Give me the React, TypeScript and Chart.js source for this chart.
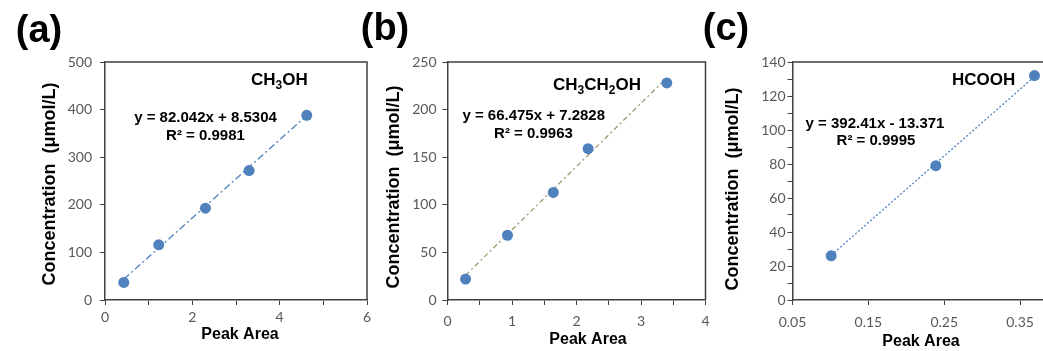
import React, { useEffect, useRef } from 'react';
import { Chart, registerables } from 'chart.js';
Chart.register(...registerables);

// ---------- DATA ----------
// (a) CH3OH
const A_PEAK_AREA = [0.43, 1.23, 2.3, 3.3, 4.62];
const A_CONC = [37, 116, 193, 272, 388];
const A_TREND_X = [0.43, 4.62];
const A_TREND_Y = [43.8, 387.6];
const A_X_TICKS = [0, 1, 2, 3, 4, 5, 6];
const A_X_LABELS = [0, 2, 4, 6];
const A_Y_TICKS = [0, 100, 200, 300, 400, 500];
const A_Y_LABELS = [0, 100, 200, 300, 400, 500];
const A_EQUATION = 'y = 82.042x + 8.5304';
const A_R2 = 'R² = 0.9981';
const A_COMPOUND: [string, boolean][] = [['CH', false], ['3', true], ['OH', false]];

// (b) CH3CH2OH
const B_PEAK_AREA = [0.28, 0.93, 1.64, 2.18, 3.4];
const B_CONC = [22, 68, 113, 159, 228];
const B_TREND_X = [0.28, 3.4];
const B_TREND_Y = [25.9, 233.3];
const B_X_TICKS = [0, 0.5, 1, 1.5, 2, 2.5, 3, 3.5, 4];
const B_X_LABELS = [0, 1, 2, 3, 4];
const B_Y_TICKS = [0, 50, 100, 150, 200, 250];
const B_Y_LABELS = [0, 50, 100, 150, 200, 250];
const B_EQUATION = 'y = 66.475x + 7.2828';
const B_R2 = 'R² = 0.9963';
const B_COMPOUND: [string, boolean][] = [['CH', false], ['3', true], ['CH', false], ['2', true], ['OH', false]];

// (c) HCOOH
const C_PEAK_AREA = [0.101, 0.239, 0.369];
const C_CONC = [26, 79, 132];
const C_TREND_X = [0.101, 0.369];
const C_TREND_Y = [26.3, 131.4];
const C_X_TICKS = [0.05, 0.15, 0.25, 0.35];
const C_X_LABELS = [0.05, 0.15, 0.25, 0.35];
const C_Y_TICKS = [0, 10, 20, 30, 40, 50, 60, 70, 80, 90, 100, 110, 120, 130, 140];
const C_Y_LABELS = [0, 20, 40, 60, 80, 100, 120, 140];
const C_EQUATION = 'y = 392.41x - 13.371';
const C_R2 = 'R² = 0.9995';
const C_COMPOUND: [string, boolean][] = [['HCOOH', false]];

const X_TITLE = 'Peak Area';
const Y_TITLE = 'Concentration  (μmol/L)';

// ---------- STYLE ----------
const H = 351;
const AXIS = '#404040';
const TICK_TEXT = '#595959';
const POINT = '#4f81bd';
const BOLD = '"Liberation Sans", Arial, sans-serif';

type Panel = {
  label: string;
  canvasLeft: number;
  canvasWidth: number;
  plot: { left: number; top: number; right: number; bottom: number };
  xMin: number; xMax: number; yMin: number; yMax: number;
  xTicks: number[]; xLabels: number[]; yTicks: number[]; yLabels: number[];
  xs: number[]; ys: number[]; tx: number[]; ty: number[];
  trendColor: string; trendDash: number[];
  equation: string; r2: string; compound: [string, boolean][];
  pos: {
    label: [number, number];
    compound: [number, number];
    eq: [number, number];
    r2: [number, number];
    yTitle: [number, number];
    xTitle: [number, number];
  };
  yPad: number; xPad: number;
};

const PANELS: Panel[] = [
  {
    label: '(a)', canvasLeft: 0, canvasWidth: 400,
    plot: { left: 105, top: 62, right: 367, bottom: 300 },
    xMin: 0, xMax: 6, yMin: 0, yMax: 500,
    xTicks: A_X_TICKS, xLabels: A_X_LABELS, yTicks: A_Y_TICKS, yLabels: A_Y_LABELS,
    xs: A_PEAK_AREA, ys: A_CONC, tx: A_TREND_X, ty: A_TREND_Y,
    trendColor: '#4f81bd', trendDash: [7, 3, 2, 3],
    equation: A_EQUATION, r2: A_R2, compound: A_COMPOUND,
    pos: { label: [39, 32], compound: [251, 85], eq: [205.5, 118], r2: [205.5, 136], yTitle: [50, 184], xTitle: [240, 335] },
    yPad: 8, xPad: 4,
  },
  {
    label: '(b)', canvasLeft: 340, canvasWidth: 400,
    plot: { left: 447.5, top: 62, right: 705.5, bottom: 300 },
    xMin: 0, xMax: 4, yMin: 0, yMax: 250,
    xTicks: B_X_TICKS, xLabels: B_X_LABELS, yTicks: B_Y_TICKS, yLabels: B_Y_LABELS,
    xs: B_PEAK_AREA, ys: B_CONC, tx: B_TREND_X, ty: B_TREND_Y,
    trendColor: '#9f9a6f', trendDash: [5, 3, 2, 3],
    equation: B_EQUATION, r2: B_R2, compound: B_COMPOUND,
    pos: { label: [385, 30], compound: [553, 90], eq: [533.7, 116], r2: [533.5, 134], yTitle: [394, 187], xTitle: [588, 340] },
    yPad: 6, xPad: 8,
  },
  {
    label: '(c)', canvasLeft: 690, canvasWidth: 380,
    plot: { left: 792.5, top: 62, right: 1058, bottom: 300 },
    xMin: 0.05, xMax: 0.4, yMin: 0, yMax: 140,
    xTicks: C_X_TICKS, xLabels: C_X_LABELS, yTicks: C_Y_TICKS, yLabels: C_Y_LABELS,
    xs: C_PEAK_AREA, ys: C_CONC, tx: C_TREND_X, ty: C_TREND_Y,
    trendColor: '#4f81bd', trendDash: [2, 2],
    equation: C_EQUATION, r2: C_R2, compound: C_COMPOUND,
    pos: { label: [726, 30], compound: [952, 85], eq: [875, 124], r2: [876, 141], yTitle: [733, 189], xTitle: [921, 342] },
    yPad: 2, xPad: 9,
  },
];

const has = (arr: number[], v: number) => arr.some((a) => Math.abs(a - v) < 1e-9);

function PanelChart({ p }: { p: Panel }) {
  const ref = useRef<HTMLCanvasElement | null>(null);
  useEffect(() => {
    if (!ref.current) return;
    const L = p.canvasLeft;
    const overlay = {
      id: 'overlay',
      afterDraw(chart: any) {
        const ctx = chart.ctx as CanvasRenderingContext2D;
        const ca = chart.chartArea;
        ctx.save();
        // top & right border of plot box
        ctx.strokeStyle = AXIS;
        ctx.lineWidth = 1.5;
        ctx.beginPath();
        ctx.moveTo(ca.left, ca.top);
        ctx.lineTo(ca.right, ca.top);
        ctx.lineTo(ca.right, ca.bottom);
        ctx.stroke();

        ctx.fillStyle = '#000';
        // panel label
        ctx.font = `bold 38px ${BOLD}`;
        ctx.textAlign = 'center';
        ctx.textBaseline = 'middle';
        ctx.fillText(p.label, p.pos.label[0] - L, p.pos.label[1]);

        // equation
        ctx.font = `bold 15px ${BOLD}`;
        ctx.fillText(p.equation, p.pos.eq[0] - L, p.pos.eq[1]);
        ctx.fillText(p.r2, p.pos.r2[0] - L, p.pos.r2[1]);

        // compound with subscripts
        ctx.textAlign = 'left';
        ctx.textBaseline = 'alphabetic';
        let cx = p.pos.compound[0] - L;
        const by = p.pos.compound[1];
        for (const [t, sub] of p.compound) {
          ctx.font = sub ? `bold 12px ${BOLD}` : `bold 17px ${BOLD}`;
          ctx.fillText(t, cx, sub ? by + 4 : by);
          cx += ctx.measureText(t).width;
        }

        // axis titles
        ctx.textAlign = 'center';
        ctx.textBaseline = 'middle';
        ctx.font = `bold 16px ${BOLD}`;
        ctx.fillText(X_TITLE, p.pos.xTitle[0] - L, p.pos.xTitle[1]);
        ctx.save();
        ctx.translate(p.pos.yTitle[0] - L, p.pos.yTitle[1]);
        ctx.rotate(-Math.PI / 2);
        ctx.font = `bold 18px ${BOLD}`;
        ctx.fillText(Y_TITLE, 0, 0);
        ctx.restore();
        ctx.restore();
      },
    };

    const tickFont = { family: 'Lato', size: 14 };
    const chart = new Chart(ref.current, {
      type: 'scatter',
      data: {
        datasets: [
          {
            data: p.tx.map((x, i) => ({ x, y: p.ty[i] })),
            showLine: true,
            borderColor: p.trendColor,
            borderWidth: 1.3,
            borderDash: p.trendDash,
            pointRadius: 0,
            order: 2,
          },
          {
            data: p.xs.map((x, i) => ({ x, y: p.ys[i] })),
            backgroundColor: POINT,
            borderColor: POINT,
            borderWidth: 0,
            pointRadius: 5.5,
            order: 1,
          },
        ],
      },
      options: {
        responsive: false,
        animation: false,
        events: [],
        layout: {
          padding: {
            top: p.plot.top,
            left: 0,
            bottom: 0,
            right: L + p.canvasWidth - p.plot.right,
          },
        },
        plugins: { legend: { display: false }, tooltip: { enabled: false } },
        scales: {
          x: {
            type: 'linear',
            min: p.xMin,
            max: p.xMax,
            afterBuildTicks: (s: any) => {
              s.ticks = p.xTicks.map((v) => ({ value: v }));
            },
            afterFit: (s: any) => {
              s.height = H - p.plot.bottom;
            },
            ticks: {
              autoSkip: false,
              maxRotation: 0,
              font: tickFont,
              color: TICK_TEXT,
              padding: p.xPad,
              callback: (v: any) => (has(p.xLabels, Number(v)) ? String(Number(Number(v).toFixed(4))) : ''),
            },
            grid: { drawOnChartArea: false, drawTicks: true, tickLength: 5, color: AXIS, lineWidth: 1 },
            border: { display: true, color: AXIS, width: 1.5 },
          },
          y: {
            type: 'linear',
            min: p.yMin,
            max: p.yMax,
            afterBuildTicks: (s: any) => {
              s.ticks = p.yTicks.map((v) => ({ value: v }));
            },
            afterFit: (s: any) => {
              s.width = p.plot.left - L;
            },
            ticks: {
              autoSkip: false,
              font: tickFont,
              color: TICK_TEXT,
              padding: p.yPad,
              callback: (v: any) => (has(p.yLabels, Number(v)) ? String(v) : ''),
            },
            grid: { drawOnChartArea: false, drawTicks: true, tickLength: 5, color: AXIS, lineWidth: 1 },
            border: { display: true, color: AXIS, width: 1.5 },
          },
        },
      },
      plugins: [overlay],
    } as any);
    return () => chart.destroy();
  }, [p]);
  return (
    <canvas
      ref={ref}
      width={p.canvasWidth}
      height={H}
      style={{ position: 'absolute', left: p.canvasLeft, top: 0, width: p.canvasWidth, height: H }}
    />
  );
}

export default function App() {
  return (
    <div
      style={{
        position: 'fixed',
        left: 0,
        top: 0,
        width: 1043,
        height: H,
        overflow: 'hidden',
        background: '#ffffff',
      }}
    >
      {PANELS.map((p) => (
        <PanelChart key={p.label} p={p} />
      ))}
    </div>
  );
}
